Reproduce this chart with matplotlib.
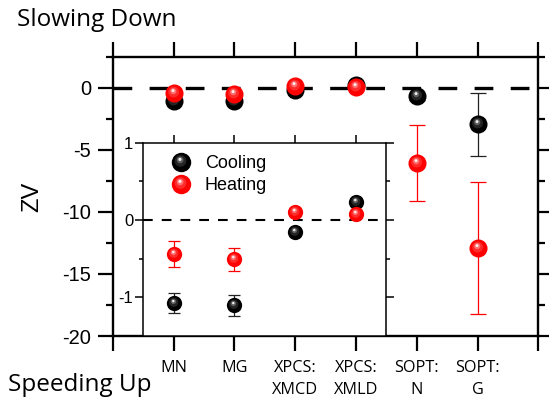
import numpy as np
import matplotlib
matplotlib.use("Agg")
import matplotlib.pyplot as plt
from matplotlib.path import Path
from matplotlib.markers import MarkerStyle
from matplotlib.lines import Line2D
from matplotlib.legend_handler import HandlerTuple

plt.rcParams['lines.scale_dashes'] = False

# ---------------- data ----------------
categories = ["MN", "MG", "XPCS:\nXMCD", "XPCS:\nXMLD", "SOPT:\nN", "SOPT:\nG"]
cooling = [-1.07, -1.10, -0.15, 0.24, -0.70, -2.95]
cooling_err = [0.13, 0.135, 0.03, 0.03, 0.30, 2.55]
heating = [-0.44, -0.51, 0.11, 0.08, -6.05, -12.9]
heating_err = [0.17, 0.15, 0.03, 0.03, 3.08, 5.32]
main_yticks = [0, -5, -10, -15, -20]
inset_yticks = [1, 0, -1]

x = np.arange(1, len(categories) + 1)

SANS = "Liberation Sans"
CAL = "Open Sans"


def circle_path(cx, cy, r, n=48):
    t = np.linspace(0, 2 * np.pi, n)
    verts = np.column_stack([cx + r * np.cos(t), cy + r * np.sin(t)])
    return Path(verts, closed=True)


def sphere_layers(color, hl):
    # each: (marker, size factor, color, alpha)
    layers = [("o", 1.0, color, 1.0)]
    specs = [((-0.05, 0.08, 0.30), hl, 0.22),
             ((-0.07, 0.13, 0.17), hl, 0.45),
             ((-0.08, 0.16, 0.08), "white", 0.9)]
    for (cx, cy, r), c, a in specs:
        p = circle_path(cx, cy, r)
        m = np.max(np.abs(p.vertices))
        layers.append((MarkerStyle(p), m / 0.5, c, a))
    return layers


BLACK_L = sphere_layers("black", "#aaaaaa")
RED_L = sphere_layers("#ff0000", "#ffc8c8")


def draw_spheres(ax, xs, ys, layers, ms, z):
    for i, (mk, f, c, a) in enumerate(layers):
        ax.plot(xs, ys, linestyle="none", marker=mk, ms=ms * f, color=c,
                alpha=a, mec="none", zorder=z + i * 0.01)


fig = plt.figure(figsize=(5.49, 4.03), dpi=100)
ax = fig.add_axes([112.7 / 549, 67 / 403, 425.6 / 549, 279.3 / 403])

ax.set_xlim(0, 7)
ax.set_ylim(-20, 2.5)

ax.axhline(0, color="black", lw=2.4, dashes=(13.5, 12.5), zorder=2)

ax.errorbar(x, heating, yerr=heating_err, fmt="none", ecolor="#ff0000",
            elinewidth=0.9, capsize=5.5, capthick=0.9, zorder=3)
ax.errorbar(x, cooling, yerr=cooling_err, fmt="none", ecolor="#222222",
            elinewidth=0.9, capsize=5.5, capthick=0.9, zorder=3)
draw_spheres(ax, x, cooling, BLACK_L, 13, 4)
draw_spheres(ax, x, heating, RED_L, 13, 5)

ax.set_xticks(np.arange(0, 8))
ax.set_xticklabels([""] + categories + [""], fontfamily=CAL, fontsize=11.7,
                   linespacing=1.45)
ax.set_yticks(main_yticks)
ax.set_yticklabels([str(v) for v in main_yticks], fontfamily=SANS, fontsize=14.5)
ax.set_yticks(np.arange(-20, 2.6, 2.5), minor=True)
ax.tick_params(axis="both", which="major", direction="out", length=10.5,
               width=1.6, top=True, right=True)
ax.tick_params(axis="y", which="minor", direction="out", length=5,
               width=1.6, right=True)
ax.tick_params(axis="x", which="major", pad=7)
ax.tick_params(axis="y", which="major", pad=5)
for s in ax.spines.values():
    s.set_linewidth(1.7)

fig.text(32 / 549, 1 - 196.5 / 403, "ZV", rotation=90, ha="center",
         va="center", fontfamily=SANS, fontsize=17)
fig.text(17 / 549, 1 - 25.7 / 403, "Slowing Down", fontfamily=CAL,
         fontsize=17.5, ha="left", va="baseline")
fig.text(8 / 549, 1 - 390.7 / 403, "Speeding Up", fontfamily=CAL,
         fontsize=17.5, ha="left", va="baseline")

# ---------------- inset ----------------
ins = ax.inset_axes([0.5, -20, 4.0, 20 - 4.435], transform=ax.transData)
ins.set_facecolor("white")
ins.set_zorder(10)
ins.set_xlim(0.5, 4.5)
ins.set_ylim(-1.5, 1)
ins.axhline(0, color="black", lw=1.5, dashes=(7, 6.5), zorder=2)
ins.errorbar(x, heating, yerr=heating_err, fmt="none", ecolor="#ff0000",
             elinewidth=0.9, capsize=4.3, capthick=0.9, zorder=3)
ins.errorbar(x, cooling, yerr=cooling_err, fmt="none", ecolor="#222222",
             elinewidth=0.9, capsize=4.3, capthick=0.9, zorder=3)
draw_spheres(ins, x, cooling, BLACK_L, 11, 4)
draw_spheres(ins, x, heating, RED_L, 11, 5)

ins.set_xticks(x[:4])
ins.tick_params(axis="x", which="major", top=True, bottom=False,
                labeltop=False, labelbottom=False, direction="out",
                length=6, width=1.1)
ins.set_yticks(inset_yticks)
ins.set_yticklabels([str(v) for v in inset_yticks], fontfamily=SANS, fontsize=12)
ins.set_yticks([0.5, -0.5], minor=True)
ins.tick_params(axis="y", which="major", direction="out", length=6,
                width=1.1, right=True, pad=1)
ins.tick_params(axis="y", which="minor", direction="out", length=3,
                width=1.1, right=True)
for s in ins.spines.values():
    s.set_linewidth(1.1)


def handle(layers, ms):
    return tuple(Line2D([], [], linestyle="none", marker=mk, ms=ms * f,
                        color=c, alpha=a, mec="none")
                 for mk, f, c, a in layers)


leg = ins.legend([handle(BLACK_L, 14), handle(RED_L, 14)],
                 ["Cooling", "Heating"],
                 handler_map={tuple: HandlerTuple(ndivide=1, pad=0)},
                 loc="upper left", frameon=False,
                 prop={"family": SANS, "size": 13},
                 handlelength=1.2, handletextpad=0.7, labelspacing=0.25,
                 borderaxespad=0.3, bbox_to_anchor=(0.06, 1.0))

fig.savefig("out.png", dpi=100)
